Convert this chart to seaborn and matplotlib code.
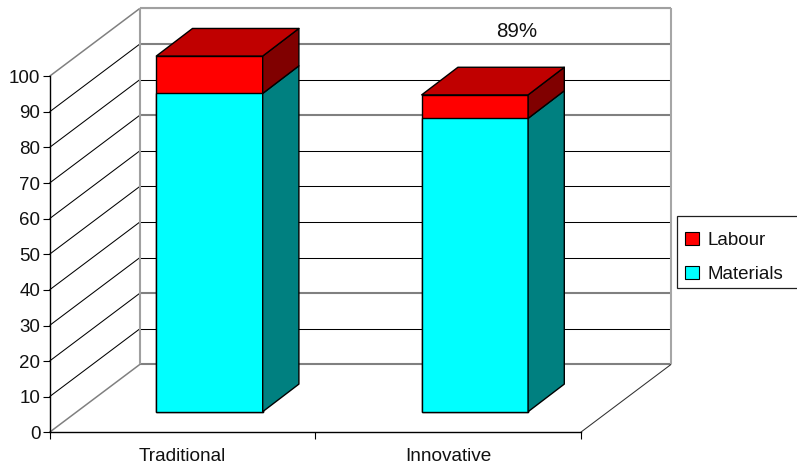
import matplotlib
matplotlib.use("Agg")
import matplotlib.pyplot as plt
from matplotlib.patches import Polygon, Rectangle
from matplotlib.transforms import Affine2D
import numpy as np
import seaborn as sns

# Cost breakdown per construction method, in percent
categories = ["Traditional", "Innovative"]
materials = [89.4, 82.4]
labour = [10.5, 6.6]
total_note = "89%"
value_ticks = list(range(0, 101, 10))

W, H = 797, 465
sns.set_style("white")
plt.rcParams["font.family"] = ["Liberation Sans", "DejaVu Sans"]
FS = 13.5
LW = 0.75

fig = plt.figure(figsize=(W / 100, H / 100), dpi=100)
fig.patch.set_facecolor("white")
ax = fig.add_axes([0, 0, 1, 1])
ax.patch.set_alpha(0)

# Screen geometry of the oblique box
left, right, floor_y = 49.5, 580.7, 432.3
unit = 3.56
depth_x, depth_y = 90.5, 68.0
bar_base_y, bar_depth_x, bar_depth_y = 411.7, 36.2, 27.6
first_center, spacing = 209.5, 265.4
bar_width = 106.4 / spacing

px = Affine2D().scale(1, -1).translate(0, H)


def seg(x0, y0, x1, y1, color="black", lw=LW, z=1):
    ax.plot([x0, x1], [y0, y1], color=color, lw=lw, transform=px, zorder=z,
            solid_capstyle="butt", clip_on=False)


# Walls and gridlines
heavy = {0, 20, 70, 90}
for v in value_ticks:
    y = floor_y - unit * v
    color, lw = ("#808080", 1.5) if v in heavy else ("black", LW)
    seg(left + depth_x, y - depth_y, left + depth_x + (right - left), y - depth_y, color, lw)
    dcolor, dlw = ("#808080", 1.1) if v in (0, 100) else ("black", LW)
    seg(left, y, left + depth_x, y - depth_y, dcolor, dlw)
top_y = floor_y - unit * 100 - depth_y
seg(left + depth_x, top_y, right + depth_x, top_y, "#a0a0a0", 1.5)
seg(left + depth_x, top_y, left + depth_x, floor_y - depth_y, "#a0a0a0", 1.5)
seg(right + depth_x, top_y, right + depth_x, floor_y - depth_y, "#a6a6a6", 1.5)
seg(right, floor_y, right + depth_x, floor_y - depth_y, "#303030", LW)

# Front faces of the stacked bars
totals = [m + l for m, l in zip(materials, labour)]
sns.barplot(x=categories, y=totals, ax=ax, color="#ff0000", saturation=1, width=bar_width,
            edgecolor="black", linewidth=1.0, zorder=3, errorbar=None)
sns.barplot(x=categories, y=materials, ax=ax, color="#00ffff", saturation=1, width=bar_width,
            edgecolor="black", linewidth=1.0, zorder=3, errorbar=None)
ax.set_xlim((0 - first_center) / spacing, (W - first_center) / spacing)
ax.set_ylim((bar_base_y - H) / unit, bar_base_y / unit)
ax.axis("off")

# Side and top faces, offset from the front faces by the bar depth
dx, dy = bar_depth_x / spacing, bar_depth_y / unit
half = bar_width / 2
for i, (m, t) in enumerate(zip(materials, totals)):
    xl, xr = i - half, i + half
    faces = [
        ([(xr, 0), (xr + dx, dy), (xr + dx, m + dy), (xr, m)], "#008080"),
        ([(xr, m), (xr + dx, m + dy), (xr + dx, t + dy), (xr, t)], "#800000"),
        ([(xl, t), (xr, t), (xr + dx, t + dy), (xl + dx, t + dy)], "#c00000"),
    ]
    for pts, fc in faces:
        ax.add_patch(Polygon(pts, closed=True, facecolor=fc, edgecolor="black",
                             linewidth=1.0, zorder=3, joinstyle="round"))

# Front plane carrying the value and category axes
front = fig.add_axes([left / W, 1 - floor_y / H, (right - left) / W, unit * 100 / H])
front.patch.set_alpha(0)
front.set_xlim(0, len(categories))
front.set_ylim(0, 100)
for s in ("top", "right"):
    front.spines[s].set_visible(False)
for s in ("left", "bottom"):
    front.spines[s].set_color("black")
    front.spines[s].set_linewidth(1.0)
front.set_yticks(value_ticks)
front.set_yticklabels([str(v) for v in value_ticks], fontsize=FS, color="#111111")
front.set_xticks(range(len(categories) + 1))
front.set_xticklabels([])
front.set_xticks([i + 0.5 for i in range(len(categories))], minor=True)
front.set_xticklabels(categories, minor=True, fontsize=13.7, color="#111111")
front.tick_params(axis="both", which="major", length=5.0, width=0.8, color="black", left=True,
                  bottom=True, pad=1.5)
front.tick_params(axis="x", which="minor", length=0, pad=11.5)

# Annotation above the second bar
ax.text(516.5, 31.7, total_note, transform=px, fontsize=14.8, ha="center", va="center",
        color="#111111", zorder=5)

# Legend box runs to the figure edge
ax.add_patch(Rectangle((677, 216), 140, 71.7, transform=px, facecolor="white",
                       edgecolor="#202020", linewidth=0.9, zorder=4, clip_on=True))
labels = ["Labour", "Materials"]
swatches = ["#ff0000", "#00ffff"]
handles = [Rectangle((0, 0), 1, 1, facecolor=c, edgecolor="black", linewidth=0.8) for c in swatches]
leg = ax.legend(handles, labels, loc="upper left", bbox_to_anchor=(685 / W, 1 - 232 / H),
                bbox_transform=fig.transFigure, frameon=False, fontsize=FS, borderaxespad=0,
                borderpad=0, handlelength=0.72, handleheight=0.72, handletextpad=0.5,
                labelspacing=0.88)
leg.set_zorder(6)
for t in leg.get_texts():
    t.set_color("#111111")

fig.savefig("out.png", dpi=100)
